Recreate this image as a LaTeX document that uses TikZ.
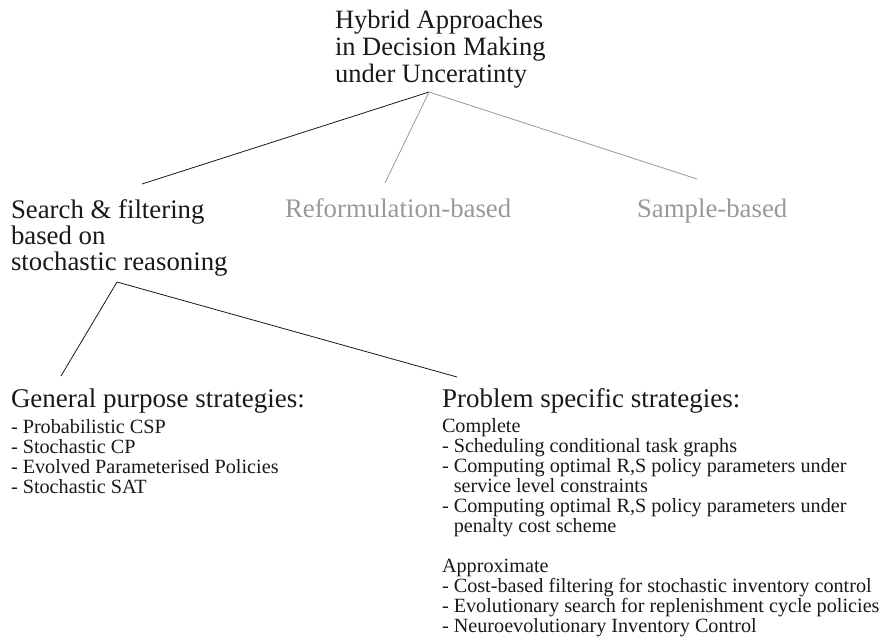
\documentclass[tikz,border=0pt]{standalone}
\usepackage{fontspec}
\setmainfont{Liberation Serif}
\begin{document}
\begin{tikzpicture}[x=1pt,y=-1pt,
  % multi-line nodes are placed by the baseline of their last line
  txt/.style={inner sep=0pt,outer sep=0pt,anchor=base west,align=left,text=black!90},
  big/.style={txt,font=\fontsize{26.5}{27}\selectfont},
  heading/.style={txt,font=\fontsize{27}{27}\selectfont},
  mid/.style={txt,font=\fontsize{26.8}{26}\selectfont},
  small/.style={txt,font=\fontsize{20.2}{20}\selectfont},
  off/.style={text=black!40},
  edge/.style={draw=black!90,line width=0.8pt},
  fadededge/.style={draw=black!40,line width=0.8pt}]
\useasboundingbox (0,0) rectangle (883,640);

% tree labels
\node[big] (root) at (335,82) {Hybrid Approaches\\in Decision Making\\under Unceratinty};
\node[mid] (search) at (11,270) {Search \& filtering\\based on\\stochastic reasoning};
\node[mid,off] (reform) at (285,217) {Reformulation-based};
\node[mid,off] (sample) at (637,217) {Sample-based};
\node[heading] (general) at (11,407) {General purpose strategies:};
\node[heading] (specific) at (442,407) {Problem specific strategies:};

% strategy lists
\node[small] (genlist) at (11,493) {- Probabilistic CSP\\- Stochastic CP\\- Evolved Parameterised Policies\\- Stochastic SAT};
\node[small] (speclist) at (442,632) {Complete\\
- Scheduling conditional task graphs\\
- Computing optimal R,S policy parameters under\\
\hphantom{- }service level constraints\\
- Computing optimal R,S policy parameters under\\
\hphantom{- }penalty cost scheme\\[20pt]
Approximate\\
- Cost-based filtering for stochastic inventory control\\
- Evolutionary search for replenishment cycle policies\\
- Neuroevolutionary Inventory Control};

% attachment points of the connectors
\coordinate (rootjoin) at (429,92);
\coordinate (searchtop) at (142,184);
\coordinate (reformtop) at (385,183);
\coordinate (sampletop) at (697,179);
\coordinate (searchjoin) at (117,282);
\coordinate (generaltop) at (61,376);
\coordinate (specifictop) at (457,377);

% connectors
\draw[edge] (rootjoin) -- (searchtop);
\draw[fadededge] (rootjoin) -- (reformtop);
\draw[fadededge] (rootjoin) -- (sampletop);
\draw[edge] (searchjoin) -- (generaltop);
\draw[edge] (searchjoin) -- (specifictop);
\end{tikzpicture}
\end{document}
